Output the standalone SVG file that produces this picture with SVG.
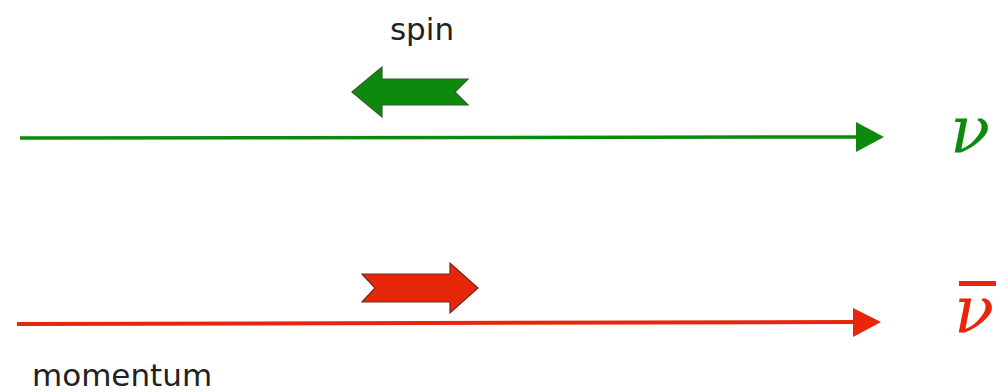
<svg xmlns="http://www.w3.org/2000/svg" width="996" height="392" viewBox="0 0 996 392">
  <defs>
    <style>
      .label { font-family: "DejaVu Sans", sans-serif; font-size: 31px; fill: #222; }
      .sym { font-family: "DejaVu Serif", serif; font-style: italic; font-size: 66px; }
      .green { fill: #0d8a0d; }
      .red { fill: #e8260a; }
      .gline { stroke: #0d8a0d; stroke-width: 3.5; fill: none; }
      .rline { stroke: #e8260a; stroke-width: 4; fill: none; }
    </style>
  </defs>

  <!-- connectors: momentum lines -->
  <g id="connectors">
    <line class="gline" x1="20" y1="138" x2="860" y2="137"/>
    <polygon class="green" points="856,122 884,137 856,152"/>
    <line class="rline" x1="17" y1="324" x2="856" y2="322"/>
    <polygon class="red" points="853,308 881,322 853,337"/>
  </g>

  <!-- neutrino: spin opposite to momentum -->
  <g id="neutrino-spin">
    <polygon class="green" stroke="#2f5a2f" stroke-width="1.2"
      points="352,92 382,67 382,79 468,79 455,92 468,105 382,105 382,117"/>
  </g>
  <g id="neutrino-label">
    <text class="sym green" x="950" y="153">ν</text>
  </g>

  <!-- antineutrino: spin along momentum -->
  <g id="antineutrino-spin">
    <polygon class="red" stroke="#6a2a20" stroke-width="1.2"
      points="478,288 450,263 450,274 362,274 375,288 362,302 450,302 450,313"/>
  </g>
  <g id="antineutrino-label">
    <rect class="red" x="959" y="281" width="40" height="5"/>
    <text class="sym red" x="954" y="333">ν</text>
  </g>

  <g id="spin-label">
    <text class="label" x="422" y="40" text-anchor="middle">spin</text>
  </g>
  <g id="momentum-label">
    <text class="label" x="32" y="386">momentum</text>
  </g>
</svg>
